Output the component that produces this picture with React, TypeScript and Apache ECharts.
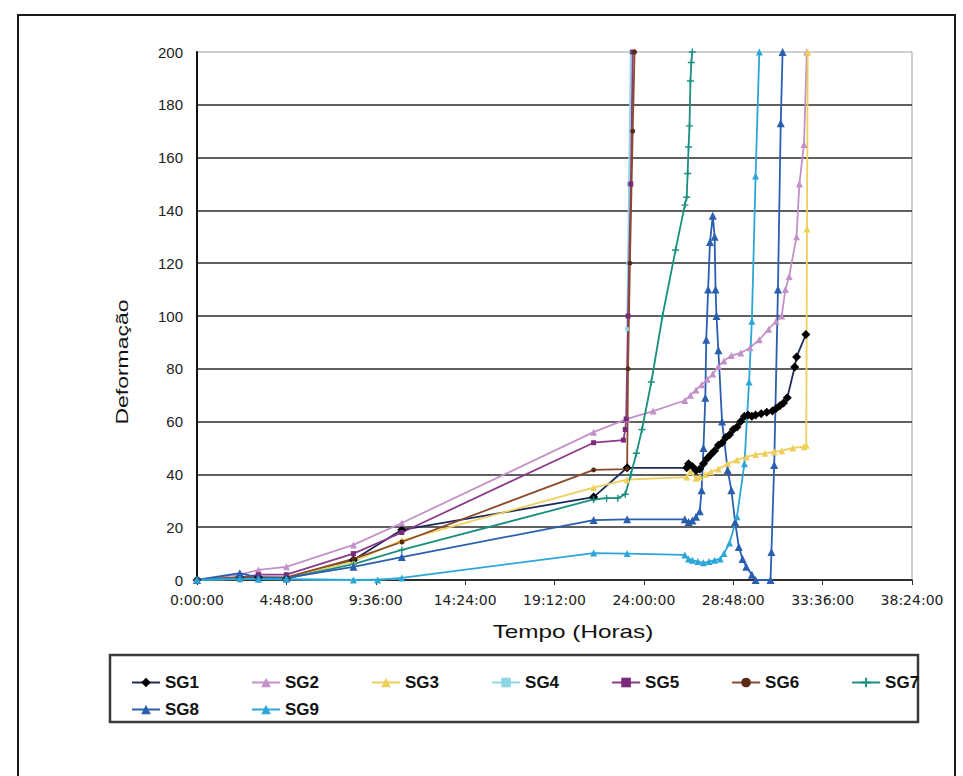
import React, { useEffect, useRef } from "react";
import * as echarts from "echarts";

// [hours, deformação] pairs
const sg1: (number | null)[][] = [
  [0, 0], [2.3, 1], [3.3, 1], [4.8, 0.5], [8.4, 7.6], [11, 19], [21.3, 31.4], [23.1, 42.5],
  [26.3, 42.5], [26.4, 44], [26.6, 43], [26.8, 41.5], [27.0, 42], [27.2, 44], [27.4, 46],
  [27.6, 47.5], [27.8, 49], [28.0, 51], [28.2, 52], [28.4, 54], [28.6, 55], [28.8, 57],
  [29.0, 58], [29.2, 60], [29.4, 62], [29.6, 62.5], [29.8, 62], [30.0, 62.5], [30.3, 63],
  [30.6, 63.5], [30.9, 64], [31.1, 65], [31.3, 66], [31.5, 67], [31.7, 69], [32.1, 80.7],
  [32.2, 84.5], [32.7, 93],
];
const sg2: (number | null)[][] = [
  [0, 0], [2.3, 2], [3.3, 3.8], [4.8, 5], [8.4, 13.3], [11, 21.6], [21.3, 56], [23.1, 61],
  [24.5, 64], [26.2, 68], [26.5, 70], [26.8, 72], [27.1, 74], [27.4, 76], [27.7, 78],
  [28.0, 81], [28.3, 83], [28.7, 85], [29.2, 86], [29.7, 88], [30.2, 91], [30.7, 95],
  [31.1, 98], [31.4, 100], [31.6, 110], [31.8, 115], [32.2, 130], [32.35, 150], [32.6, 165],
  [32.75, 200],
];
const sg3: (number | null)[][] = [
  [0, 0], [2.3, 1], [3.3, 1], [4.8, 1], [8.4, 7], [11, 15], [21.3, 35], [23.1, 38],
  [26.3, 39], [26.5, 41], [26.8, 38.5], [27.0, 39], [27.3, 40], [27.6, 41], [28.0, 42],
  [28.5, 44], [29.0, 45.5], [29.5, 46.6], [30.0, 47.5], [30.5, 48], [31.0, 48.5], [31.4, 49],
  [32.0, 50], [32.6, 50.5], [32.72, 51], [32.76, 133], [32.8, 200],
];
const sg4: (number | null)[][] = [
  [0, 0], [2.3, 0.3], [3.3, 0.3], [4.8, 0.2], [8.4, 0], [11, 0.5], [12, null],
  [23.1, 95], [23.15, 120], [23.2, 150], [23.3, 200],
];
const sg5: (number | null)[][] = [
  [0, 0], [2.3, 1], [3.3, 2], [4.8, 2], [8.4, 10], [11, 18], [21.3, 52], [22.9, 53],
  [23.0, 57], [23.05, 61], [23.15, 100], [23.3, 150], [23.4, 200],
];
const sg6: (number | null)[][] = [
  [0, 0], [2.3, 1], [3.3, 1], [4.8, 1], [8.4, 8], [11, 14.4], [21.3, 41.7], [23.1, 42],
  [23.15, 80], [23.25, 120], [23.4, 170], [23.5, 200],
];
const sg7: (number | null)[][] = [
  [0, 0], [2.3, 0.5], [3.3, 0.5], [4.8, 0.5], [8.4, 6], [11, 11.4], [21.3, 30.5], [22.0, 31],
  [22.6, 31], [23.0, 32.5], [23.3, 40], [23.6, 48], [23.9, 57], [24.4, 75], [25.0, 100],
  [25.7, 125], [26.2, 142], [26.3, 145], [26.35, 154], [26.4, 164], [26.45, 172], [26.5, 189],
  [26.55, 196], [26.6, 200],
];
const sg8: (number | null)[][] = [
  [0, 0], [2.3, 2.6], [3.3, 1], [4.8, 0.8], [8.4, 5], [11, 8.7], [21.3, 22.7], [23.1, 23],
  [26.2, 23], [26.4, 22], [26.6, 22.5], [26.8, 24], [27.0, 26], [27.1, 34], [27.2, 50],
  [27.3, 69], [27.35, 91], [27.45, 110], [27.55, 128], [27.7, 138], [27.8, 130], [27.85, 110],
  [27.9, 100], [28.0, 87], [28.2, 60], [28.5, 41.7], [28.7, 34], [28.9, 22], [29.1, 12.5],
  [29.3, 8], [29.5, 5], [29.8, 2], [30.0, 0], [30.8, 0], [30.85, 10.6], [31.0, 43.6],
  [31.2, 110], [31.35, 173], [31.45, 200],
];
const sg9: (number | null)[][] = [
  [0, 0], [2.3, 0.5], [3.3, 0.3], [4.8, 0.3], [8.4, 0], [9.7, 0], [11, 0.8], [21.3, 10.2],
  [23.1, 10], [26.2, 9.5], [26.4, 8], [26.6, 7.5], [26.9, 7], [27.2, 6.5], [27.5, 7],
  [27.8, 7.5], [28.1, 8], [28.3, 10], [28.6, 14], [29.0, 24], [29.4, 44], [29.65, 75],
  [29.8, 98], [30.0, 153], [30.2, 200],
];

const seriesNames = ["SG1", "SG2", "SG3", "SG4", "SG5", "SG6", "SG7", "SG8", "SG9"];
const seriesData = [sg1, sg2, sg3, sg4, sg5, sg6, sg7, sg8, sg9];
const lineColors = ["#1c2a5a", "#c391c9", "#efcf5c", "#8fd5e6", "#8a3a8a", "#8b4a2b", "#1a8f80", "#2a5fb0", "#2aa6d8"];
const markerColors = ["#000000", "#c391c9", "#efcf5c", "#8fd5e6", "#7a2a7a", "#5a2a15", "#1a8f80", "#2a5fb0", "#2aa6d8"];
const plusPath = "path://M4,0H6V4H10V6H6V10H4V6H0V4H4Z";
const symbols = ["diamond", "triangle", "triangle", "rect", "rect", "circle", plusPath, "triangle", "triangle"];
const symbolSizes = [9, 7, 7, 4, 5, 5, 7, 8, 7];

const xMax = 38.4;
const xStep = 4.8;
const yMax = 200;
const yStep = 20;

const fmtTime = (v: number) => {
  const m = Math.round(v * 60);
  const h = Math.floor(m / 60);
  const mm = m % 60;
  return `${h}:${String(mm).padStart(2, "0")}:00`;
};

const FONT = "'Liberation Sans', Arial, sans-serif";
const WIDE = "'DejaVu Sans', Verdana, sans-serif";

export default function App() {
  const ref = useRef<HTMLDivElement>(null);
  useEffect(() => {
    document.body.style.margin = "0";
    const chart = echarts.init(ref.current!, null, { renderer: "svg" });
    const legendText = {
      fontFamily: "'Liberation Sans Narrow', 'Liberation Sans', Arial, sans-serif",
      fontWeight: "bold",
      fontSize: 17,
      color: "#111",
    };
    chart.setOption({
      animation: false,
      backgroundColor: "#ffffff",
      grid: {
        left: 197, right: 51, top: 52, bottom: 196,
        show: true, borderColor: "#a0a0a0", borderWidth: 1, backgroundColor: "transparent",
      },
      xAxis: {
        type: "value", min: 0, max: xMax, interval: xStep,
        axisLine: { show: true, onZero: false, lineStyle: { color: "#222", width: 1.5 } },
        axisTick: { show: true, inside: false, length: 5, lineStyle: { color: "#333" } },
        axisLabel: { formatter: fmtTime, fontFamily: WIDE, fontSize: 14, color: "#222", margin: 13 },
        splitLine: { show: false },
      },
      yAxis: {
        type: "value", min: 0, max: yMax, interval: yStep,
        axisLine: { show: true, lineStyle: { color: "#111", width: 2 } },
        axisTick: { show: false },
        axisLabel: { fontFamily: FONT, fontSize: 15, color: "#222", margin: 14 },
        splitLine: { show: true, showMaxLine: false, lineStyle: { color: "#2b2b2b", width: 1.5 } },
      },
      legend: [
        {
          data: seriesNames.slice(0, 7), left: 126, top: 669, orient: "horizontal",
          itemWidth: 28, itemHeight: 12, itemGap: 52, textStyle: legendText, selectedMode: false,
        },
        {
          data: seriesNames.slice(7), left: 126, top: 696, orient: "horizontal",
          itemWidth: 28, itemHeight: 12, itemGap: 52, textStyle: legendText, selectedMode: false,
        },
      ],
      graphic: [
        { type: "rect", shape: { x: 18, y: 15, width: 937, height: 800 }, style: { fill: "none", stroke: "#1a1a1a", lineWidth: 2 }, silent: true },
        { type: "rect", shape: { x: 110, y: 655, width: 808, height: 67 }, style: { fill: "none", stroke: "#3a3a3a", lineWidth: 2.5 }, silent: true },
        {
          type: "text", x: 122, y: 362, rotation: Math.PI / 2, scaleX: 1.35,
          style: { text: "Deformação", fontFamily: FONT, fontSize: 17, fill: "#111", align: "center", verticalAlign: "middle" },
          silent: true,
        },
        {
          type: "text", x: 573, y: 632, scaleX: 1.35,
          style: { text: "Tempo (Horas)", fontFamily: FONT, fontSize: 18, fill: "#111", align: "center", verticalAlign: "middle" },
          silent: true,
        },
      ],
      series: seriesNames.map((n, i) => ({
        name: n,
        type: "line",
        data: seriesData[i],
        symbol: symbols[i],
        symbolSize: symbolSizes[i],
        showSymbol: true,
        connectNulls: false,
        clip: true,
        lineStyle: { color: lineColors[i], width: 1.8 },
        itemStyle: { color: markerColors[i] },
      })),
    });
    return () => chart.dispose();
  }, []);
  return <div ref={ref} style={{ position: "fixed", left: 0, top: 0, width: 963, height: 776 }} />;
}
